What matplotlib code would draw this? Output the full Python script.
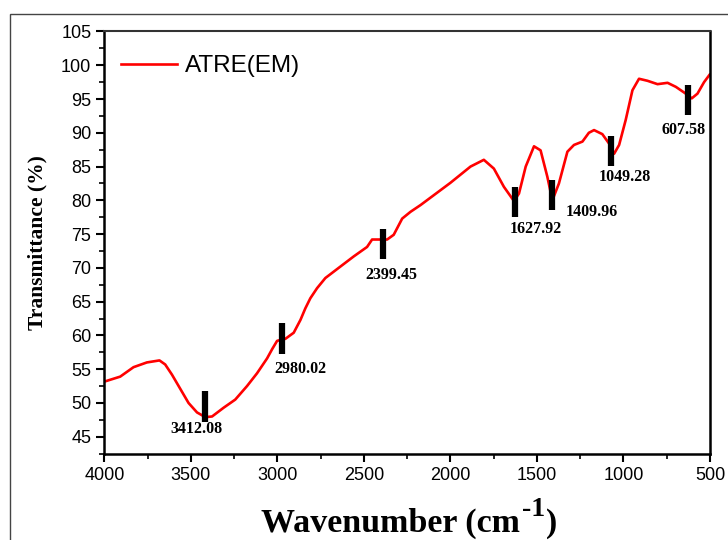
import numpy as np
import matplotlib
matplotlib.use('Agg')
import matplotlib.pyplot as plt
from matplotlib.patches import Rectangle
from matplotlib.ticker import MultipleLocator

# FTIR spectrum
wavenumber = [3996, 3909, 3832, 3755, 3682, 3649, 3610, 3562, 3514, 3465, 3417,
              3378, 3311, 3244, 3176, 3118, 3060, 3030, 3002, 2954, 2906, 2867,
              2839, 2810, 2771, 2723, 2636, 2559, 2482, 2453, 2414, 2366, 2328,
              2279, 2231, 2173, 2000, 1884, 1807, 1749, 1691, 1633, 1604, 1565,
              1517, 1479, 1440, 1411, 1373, 1324, 1286, 1237, 1200, 1170, 1122,
              1083, 1054, 1025, 987, 948, 910, 861, 803, 745, 697, 640, 605,
              572, 534, 502]
transmittance = [53.2, 53.9, 55.3, 56.0, 56.3, 55.7, 54.2, 52.1, 50.0, 48.6, 47.9,
                 48.0, 49.3, 50.5, 52.5, 54.4, 56.6, 58.0, 59.2, 59.5, 60.4, 62.3,
                 64.0, 65.5, 67.0, 68.5, 70.2, 71.7, 73.1, 74.2, 74.2, 74.2, 74.9,
                 77.3, 78.3, 79.3, 82.6, 85.0, 86.0, 84.7, 82.0, 79.9, 81.0, 85.0,
                 88.0, 87.4, 83.5, 80.0, 82.5, 87.2, 88.2, 88.7, 90.0, 90.4, 89.8,
                 88.4, 86.9, 88.2, 91.9, 96.3, 98.0, 97.7, 97.2, 97.4, 96.8, 95.8,
                 95.1, 95.8, 97.5, 98.6]

# peak markers: label, bar position, bar bottom/top, label position
peak_labels = ['3412.08', '2980.02', '2399.45', '1627.92', '1409.96', '1049.28', '607.58']
bar_x = [3418, 2973, 2390, 1628, 1415, 1073, 629]
bar_lo = [47.2, 57.3, 71.3, 77.5, 78.6, 85.1, 92.6]
bar_hi = [51.7, 61.9, 75.8, 82.0, 83.0, 89.5, 97.1]
label_x = [3468, 2866, 2340, 1507, 1183, 993, 651]
label_y = [46.2, 55.0, 68.9, 75.7, 78.2, 83.4, 90.4]

x_ticks = [4000, 3500, 3000, 2500, 2000, 1500, 1000, 500]
y_ticks = [45, 50, 55, 60, 65, 70, 75, 80, 85, 90, 95, 100, 105]


def xlabel_pieces(fig, xc, y):
    # "Wavenumber (cm" + big superscript "-1" + ")"
    kw = dict(family='Liberation Serif', fontweight='bold', va='baseline')
    r = fig.canvas.get_renderer()
    W = fig.bbox.width
    t1 = fig.text(0, y, 'Wavenumber (cm', fontsize=24.5, **kw)
    t2 = fig.text(0, y + 0.03, '-1', fontsize=20, **kw)
    t3 = fig.text(0, y, ')', fontsize=24.5, **kw)
    w1 = t1.get_window_extent(r).width / W
    w2 = t2.get_window_extent(r).width / W
    w3 = t3.get_window_extent(r).width / W
    x0 = xc - (w1 + w2 + w3) / 2
    t1.set_x(x0)
    t2.set_x(x0 + w1 + 0.002)
    t3.set_x(x0 + w1 + w2 + 0.003)


def main():
    fig = plt.figure(figsize=(7.28, 5.4), dpi=100)
    ax = fig.add_axes([0.1435, 0.1587, 0.8317, 0.783])

    # outer frame around the figure
    fig.add_artist(Rectangle((10/728, -0.05), 1.0, 0.974 + 0.05,
                             transform=fig.transFigure, fill=False,
                             ec='#444444', lw=1.0))

    ax.plot(wavenumber, transmittance, color='red', lw=1.9, label='ATRE(EM)',
            solid_joinstyle='round')
    ax.vlines(bar_x, bar_lo, bar_hi, colors='black', lw=4.5)
    for lab, lx, ly in zip(peak_labels, label_x, label_y):
        ax.text(lx, ly, lab, ha='center', va='center', fontsize=11.5,
                fontweight='bold', family='Liberation Serif')

    ax.set_xlim(4000, 500)
    ax.set_ylim(42.4, 105)
    ax.set_xticks(x_ticks)
    ax.set_yticks(y_ticks)
    ax.xaxis.set_minor_locator(MultipleLocator(250))
    ax.yaxis.set_minor_locator(MultipleLocator(2.5))
    ax.tick_params(which='major', direction='out', length=6, width=1.5,
                   labelsize=13, top=False, right=False)
    ax.tick_params(which='minor', direction='out', length=3.5, width=1.2,
                   top=False, right=False)
    for lab in ax.get_xticklabels() + ax.get_yticklabels():
        lab.set_family('Liberation Sans')
    for s in ['left', 'bottom', 'right']:
        ax.spines[s].set_linewidth(1.8)
    ax.spines['top'].set_linewidth(1.5)
    ax.spines['top'].set_color('#333333')

    xlabel_pieces(fig, 408 / 728, 1 - 532 / 540)
    ax.set_ylabel('Transmittance (%)', fontsize=15.5, fontweight='bold',
                  family='Liberation Serif', labelpad=10)

    ax.legend(loc='upper left', frameon=False, handlelength=2.3,
              handletextpad=0.3, bbox_to_anchor=(-0.008, 0.995),
              prop={'family': 'Liberation Sans', 'size': 17.5})

    fig.savefig('out.png', dpi=100)


if __name__ == "__main__":
    main()
